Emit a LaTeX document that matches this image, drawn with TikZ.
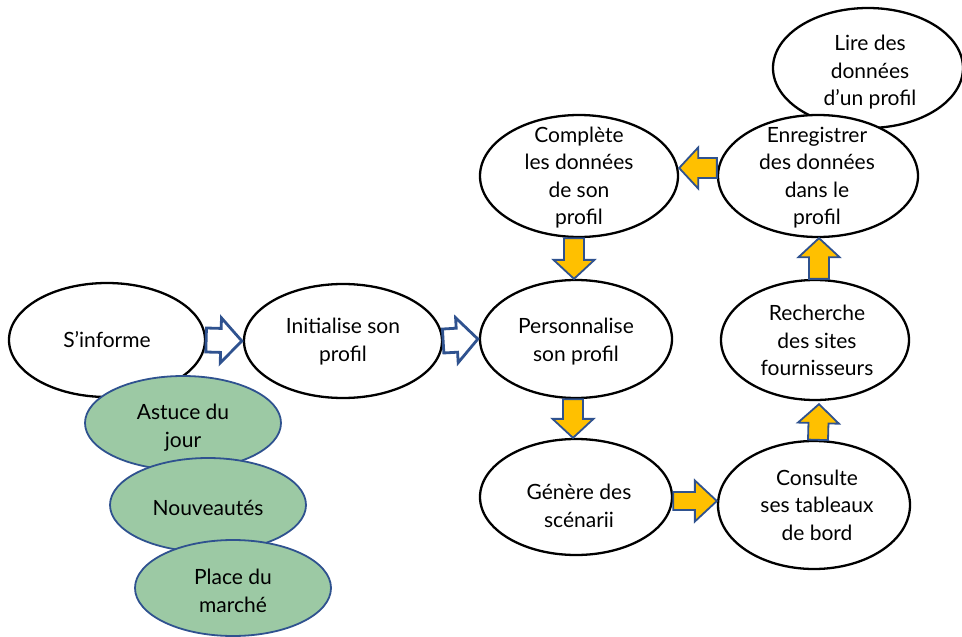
\documentclass[tikz,border=0pt]{standalone}
\usepackage{fontspec}
\setmainfont{Lato}
\usetikzlibrary{calc,shapes.geometric}
\definecolor{arrowblue}{RGB}{47,82,143}
\definecolor{ovalgreen}{RGB}{156,201,164}
\definecolor{arroworange}{RGB}{255,192,0}
\tikzset{
  oval/.style={ellipse, draw=black, line width=2.3pt, fill=white, inner sep=0pt},
  greenoval/.style={ellipse, draw=arrowblue, line width=1.8pt, fill=ovalgreen, inner sep=0pt},
  txt/.style={align=center, font=\fontsize{21}{27.5}\selectfont, inner sep=0pt},
  hollowarrow/.style={draw=arrowblue, fill=white, line width=2.8pt, line join=miter},
  orangearrow/.style={draw=arrowblue, fill=arroworange, line width=1.8pt, line join=miter},
}
% #1 style, #2 start, #3 tip, #4 half shaft, #5 half head, #6 head length
\newcommand\blockarrow[6]{%
  \draw[#1] let \p1=#2, \p2=#3,
    \n1={atan2(\y2-\y1,\x2-\x1)},
    \n2={veclen(\x2-\x1,\y2-\y1)-#6} in
    ($(\p1)+({\n1+90}:#4)$)
    -- ($(\p1)+(\n1:\n2)+({\n1+90}:#4)$)
    -- ($(\p1)+(\n1:\n2)+({\n1+90}:#5)$)
    -- (\p2)
    -- ($(\p1)+(\n1:\n2)+({\n1-90}:#5)$)
    -- ($(\p1)+(\n1:\n2)+({\n1-90}:#4)$)
    -- ($(\p1)+({\n1-90}:#4)$) -- cycle;}
\begin{document}
\begin{tikzpicture}[x=1pt,y=1pt]
\useasboundingbox (0,0) rectangle (962,-637);
% left chain
\node[oval, minimum width=196pt, minimum height=114pt] (sinf) at (107,-340) {};
\node[txt] (sinft) at (sinf.center) {S’informe};
\node[oval, minimum width=198pt, minimum height=114pt] (init) at (343,-341) {};
\node[txt] (initt) at ([yshift=-0.5pt]init.center) {Initialise son\\profil};
% green ovals
\node[greenoval, minimum width=196pt, minimum height=94pt] (astuce) at (183,-423) {};
\node[txt] (astucet) at ([yshift=-4.5pt]astuce.center) {Astuce du\\jour};
\node[greenoval, minimum width=196pt, minimum height=94pt] (nouv) at (208,-505) {};
\node[txt] (nouvt) at ([yshift=-3pt]nouv.center) {Nouveautés};
\node[greenoval, minimum width=196pt, minimum height=96pt] (place) at (233,-588) {};
\node[txt] (placet) at ([yshift=-3pt]place.center) {Place du\\marché};
% center column
\node[oval, minimum width=192pt, minimum height=118pt] (perso) at (576,-339) {};
\node[txt] (persot) at ([yshift=-2.5pt]perso.center) {Personnalise\\son profil};
\node[oval, minimum width=198pt, minimum height=122pt] (compl) at (579,-176) {};
\node[txt] (complt) at ([yshift=-1.5pt]compl.center) {Complète\\les données\\de son\\profil};
\node[oval, minimum width=192pt, minimum height=116pt] (gen) at (576,-497) {};
\node[txt] (gent) at ([xshift=3pt,yshift=-9pt]gen.center) {Génère des\\scénarii};
% right column
\node[oval, minimum width=190pt, minimum height=120pt] (lire) at (868,-68) {};
\node[txt] (liret) at ([xshift=2pt,yshift=-4.5pt]lire.center) {Lire des\\données\\d’un profil};
\node[oval, minimum width=200pt, minimum height=122pt] (enr) at (818,-176) {};
\node[txt] (enrt) at ([xshift=-1pt,yshift=-1.5pt]enr.center) {Enregistrer\\des données\\dans le\\profil};
\node[oval, minimum width=188pt, minimum height=120pt] (rech) at (815,-340) {};
\node[txt] (recht) at ([xshift=2pt,yshift=-0.5pt]rech.center) {Recherche\\des sites\\fournisseurs};
\node[oval, minimum width=192pt, minimum height=128pt] (cons) at (814,-505) {};
\node[txt] (canst) at ([xshift=3pt]cons.center) {Consulte\\ses tableaux\\de bord};
% hollow arrows
\blockarrow{hollowarrow}{(sinf.east)}{([xshift=-1pt]init.west)}{12}{22.5}{21}
\blockarrow{hollowarrow}{(init.east)}{([xshift=-1pt]perso.west)}{12}{22.5}{21}
% orange arrows
\blockarrow{orangearrow}{([xshift=-5pt]compl.south)}{([xshift=-2pt]perso.north)}{10}{20.5}{19}
\blockarrow{orangearrow}{([xshift=-3pt]perso.south)}{([xshift=-3pt]gen.north)}{10}{20.5}{19}
\blockarrow{orangearrow}{([yshift=-4pt]gen.east)}{([yshift=4pt]cons.west)}{9}{20.5}{22}
\blockarrow{orangearrow}{([xshift=4pt]cons.north)}{([xshift=4pt,yshift=-3pt]rech.south)}{10}{20.5}{19}
\blockarrow{orangearrow}{([xshift=4pt]rech.north)}{([xshift=1pt]enr.south)}{10}{20.5}{19}
\blockarrow{orangearrow}{([yshift=8pt]enr.west)}{([yshift=8pt]compl.east)}{10}{20.5}{19}
\end{tikzpicture}
\end{document}
